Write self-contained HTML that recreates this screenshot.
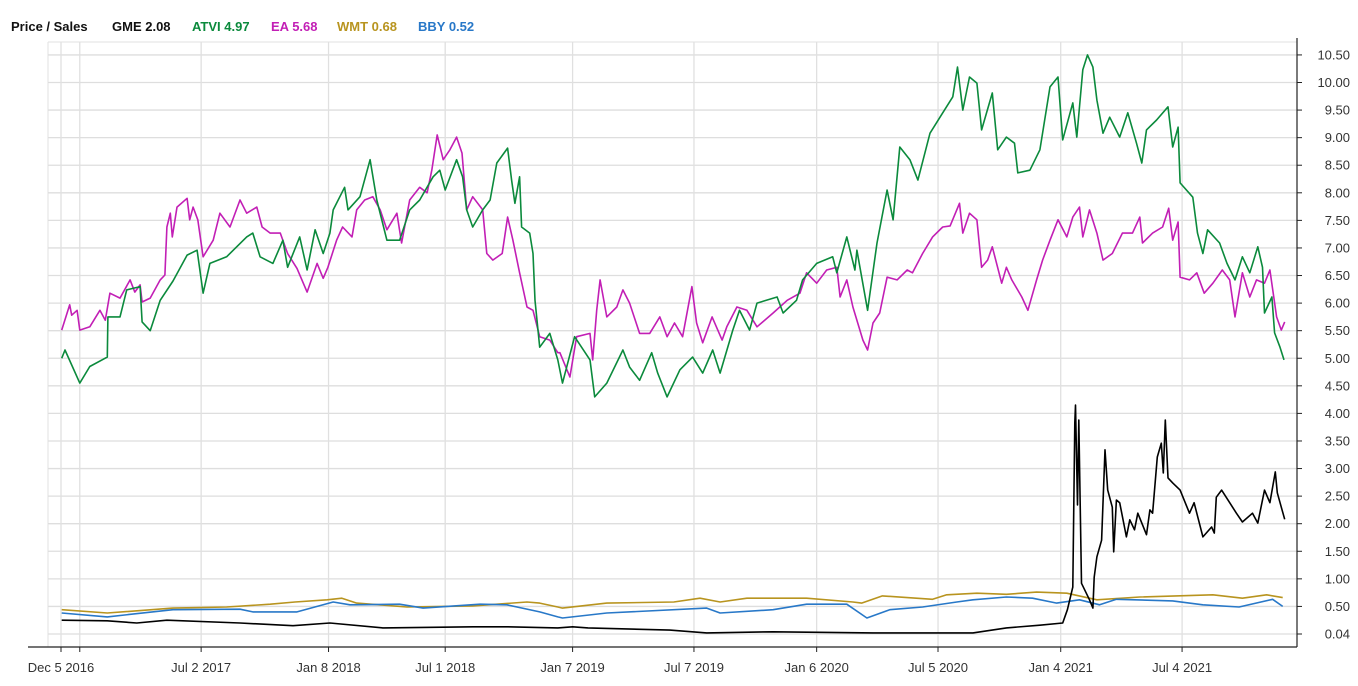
<!DOCTYPE html>
<html><head><meta charset="utf-8"><style>
body{margin:0;background:#fff;width:1358px;height:686px;overflow:hidden;font-family:"Liberation Sans",Arial,sans-serif}
#legend{position:absolute;left:0;top:19px;font-size:13px;font-weight:bold;white-space:nowrap}
#legend span{position:absolute;top:0}
svg{position:absolute;left:0;top:0}
</style></head><body>
<div id="legend">
<span style="left:11px;color:#111">Price / Sales</span>
<span style="left:112px;color:#111">GME 2.08</span>
<span style="left:192px;color:#0b8a3c">ATVI 4.97</span>
<span style="left:271px;color:#c21fb5">EA 5.68</span>
<span style="left:337px;color:#b8941f">WMT 0.68</span>
<span style="left:418px;color:#2878c8">BBY 0.52</span>
</div>
<svg id="chart" width="1358" height="686"></svg>
<script>
// days since Dec 5 2016
const xTickDays=[0,28,209,399,573,763,944,1127,1308,1491,1672];
const xTickLabels=["Dec 5 2016","","Jul 2 2017","Jan 8 2018","Jul 1 2018","Jan 7 2019","Jul 7 2019","Jan 6 2020","Jul 5 2020","Jan 4 2021","Jul 4 2021"];
const yTicks=[0,0.5,1,1.5,2,2.5,3,3.5,4,4.5,5,5.5,6,6.5,7,7.5,8,8.5,9,9.5,10,10.5];
const yTickLabels=["0.04","0.50","1.00","1.50","2.00","2.50","3.00","3.50","4.00","4.50","5.00","5.50","6.00","6.50","7.00","7.50","8.00","8.50","9.00","9.50","10.00","10.50"];

const atviDays=[1,6,28,43,69,70,88,98,118,121,133,148,167,188,203,212,222,247,277,286,297,316,331,338,356,367,379,391,401,406,423,428,446,461,471,486,505,520,535,555,565,573,590,599,605,614,629,640,650,666,672,677,684,687,699,704,707,714,729,741,748,766,789,796,814,838,848,863,881,890,904,923,942,957,972,983,1002,1012,1027,1038,1068,1077,1097,1106,1127,1151,1157,1172,1184,1187,1203,1217,1232,1241,1251,1266,1278,1296,1311,1330,1337,1345,1355,1366,1373,1389,1397,1410,1422,1427,1445,1460,1475,1487,1494,1509,1515,1524,1531,1539,1545,1554,1564,1579,1591,1604,1612,1619,1634,1651,1658,1666,1669,1688,1695,1703,1710,1728,1739,1751,1762,1773,1785,1792,1795,1806,1810,1818,1824];
const atviVals=[5.0,5.15,4.55,4.85,5.02,5.75,5.75,6.24,6.3,5.66,5.5,6.05,6.4,6.87,6.96,6.18,6.72,6.84,7.2,7.27,6.84,6.72,7.14,6.65,7.2,6.6,7.33,6.9,7.27,7.69,8.1,7.69,7.93,8.6,7.87,7.14,7.14,7.69,7.87,8.29,8.41,8.05,8.6,8.29,7.69,7.38,7.69,7.87,8.54,8.81,8.23,7.81,8.29,7.38,7.27,6.9,6.05,5.2,5.45,4.97,4.55,5.39,4.97,4.3,4.55,5.15,4.84,4.6,5.1,4.73,4.3,4.79,5.02,4.73,5.15,4.73,5.51,5.87,5.51,6.0,6.11,5.82,6.05,6.42,6.72,6.84,6.55,7.2,6.6,6.96,5.87,7.09,8.05,7.51,8.83,8.6,8.23,9.08,9.37,9.74,10.28,9.5,10.1,9.99,9.14,9.81,8.78,9.01,8.9,8.36,8.41,8.78,9.92,10.1,8.96,9.63,9.01,10.23,10.5,10.28,9.68,9.08,9.37,9.01,9.45,8.9,8.54,9.14,9.32,9.56,8.83,9.19,8.18,7.92,7.27,6.9,7.33,7.09,6.72,6.42,6.84,6.55,7.02,6.65,5.82,6.11,5.46,5.2,4.97];

const eaDays=[1,13,16,24,28,43,58,66,73,88,103,110,118,121,133,148,155,158,163,166,173,188,192,197,204,212,227,237,252,267,277,292,300,312,327,338,352,367,382,391,398,411,420,434,441,453,465,476,486,501,508,520,535,546,553,561,570,580,590,598,605,614,629,635,644,658,666,674,684,695,704,714,729,741,744,759,769,789,793,799,804,814,829,838,848,863,878,893,904,915,927,941,948,957,971,986,993,1008,1023,1038,1062,1083,1102,1112,1127,1142,1157,1162,1172,1181,1196,1203,1211,1221,1232,1247,1262,1270,1285,1300,1315,1326,1340,1345,1355,1366,1373,1382,1389,1403,1410,1418,1433,1442,1455,1464,1475,1487,1500,1509,1519,1524,1534,1545,1554,1568,1583,1598,1609,1613,1628,1643,1652,1658,1666,1669,1683,1694,1705,1718,1732,1743,1751,1762,1773,1783,1795,1803,1813,1820,1825];
const eaVals=[5.51,5.97,5.78,5.87,5.51,5.57,5.87,5.69,6.18,6.09,6.42,6.2,6.33,6.02,6.09,6.42,6.51,7.38,7.63,7.2,7.74,7.9,7.51,7.74,7.51,6.84,7.14,7.63,7.38,7.87,7.63,7.74,7.38,7.27,7.27,6.9,6.63,6.2,6.72,6.45,6.65,7.14,7.38,7.2,7.69,7.87,7.93,7.69,7.33,7.63,7.09,7.87,8.1,8.0,8.41,9.05,8.6,8.78,9.01,8.72,7.69,7.93,7.69,6.9,6.78,6.9,7.56,7.14,6.55,5.93,5.87,5.39,5.33,5.1,5.1,4.66,5.39,5.45,4.97,5.87,6.42,5.75,5.93,6.24,6.0,5.45,5.45,5.75,5.39,5.64,5.39,6.3,5.64,5.28,5.75,5.33,5.57,5.93,5.87,5.57,5.82,6.05,6.18,6.55,6.36,6.6,6.65,6.11,6.42,5.93,5.33,5.15,5.64,5.82,6.47,6.42,6.6,6.55,6.9,7.2,7.38,7.4,7.81,7.27,7.63,7.51,6.65,6.78,7.02,6.36,6.65,6.42,6.11,5.87,6.42,6.78,7.14,7.51,7.2,7.56,7.74,7.2,7.69,7.27,6.78,6.9,7.27,7.27,7.56,7.09,7.27,7.38,7.72,7.14,7.47,6.47,6.42,6.55,6.18,6.36,6.6,6.42,5.75,6.55,6.11,6.42,6.36,6.6,5.75,5.51,5.66];

const wmtDays=[1,69,167,247,312,349,397,419,441,516,614,695,714,741,748,814,914,953,983,1023,1112,1181,1194,1225,1300,1321,1366,1410,1455,1500,1545,1609,1718,1762,1798,1822];
const wmtVals=[0.44,0.38,0.47,0.49,0.54,0.58,0.62,0.65,0.56,0.49,0.51,0.58,0.56,0.49,0.47,0.56,0.58,0.65,0.58,0.65,0.65,0.58,0.56,0.69,0.63,0.71,0.74,0.72,0.76,0.74,0.62,0.67,0.71,0.65,0.71,0.66];

const bbyDays=[1,69,167,267,286,352,406,431,505,540,625,665,714,741,748,814,963,983,1062,1112,1172,1202,1236,1285,1336,1360,1410,1449,1485,1519,1549,1574,1658,1703,1757,1807,1822];
const bbyVals=[0.38,0.31,0.44,0.45,0.4,0.4,0.58,0.53,0.54,0.47,0.54,0.53,0.4,0.31,0.29,0.38,0.47,0.38,0.44,0.54,0.54,0.29,0.44,0.49,0.58,0.62,0.67,0.65,0.56,0.62,0.53,0.63,0.6,0.53,0.49,0.63,0.5];

const gmeDays=[1,69,113,158,267,346,401,480,614,665,741,763,786,908,963,1062,1211,1336,1360,1410,1460,1494,1501,1509,1512,1513,1516,1518,1522,1534,1539,1541,1545,1552,1557,1561,1568,1570,1574,1579,1589,1594,1601,1606,1612,1619,1624,1628,1635,1641,1644,1647,1651,1658,1669,1683,1690,1703,1716,1720,1723,1731,1743,1753,1762,1777,1785,1795,1803,1811,1814,1820,1825];
const gmeVals=[0.25,0.24,0.2,0.25,0.2,0.15,0.2,0.11,0.13,0.13,0.11,0.13,0.11,0.07,0.02,0.04,0.02,0.02,0.02,0.11,0.16,0.2,0.44,0.85,3.83,4.15,2.34,3.88,0.92,0.62,0.47,1.03,1.4,1.7,3.34,2.61,2.3,1.49,2.43,2.38,1.76,2.07,1.89,2.19,2.01,1.8,2.25,2.19,3.21,3.46,2.92,3.88,2.83,2.74,2.61,2.19,2.38,1.76,1.94,1.83,2.48,2.61,2.38,2.19,2.03,2.19,2.01,2.61,2.38,2.94,2.56,2.3,2.08];

const NS="http://www.w3.org/2000/svg";
const svg=document.getElementById('chart');
const X0=61, PXD=0.6705, Y0=634, PXV=55.15;
const PL=48, PR=1297, PT=42, PB=647;
function xScale(d){return X0+d*PXD;}
function yScale(v){return Y0-v*PXV;}
function mk(tag,attrs){const e=document.createElementNS(NS,tag);for(const k in attrs)e.setAttribute(k,attrs[k]);svg.appendChild(e);return e;}

let tb=mk('line',{x1:PL,x2:PR,y1:PT,y2:PT,stroke:'#e2e2e2','stroke-width':1});


let lb=mk('line',{x1:PL,x2:PL,y1:PT,y2:PB,stroke:'#e2e2e2','stroke-width':1});



yTicks.forEach((v,i)=>{
  const y=yScale(v);
  const g=mk('line',{x1:PL,x2:PR,y1:y,y2:y,stroke:'#dedede','stroke-width':1.3});
  
  
  const t=mk('line',{x1:PR,x2:PR+5,y1:y,y2:y,stroke:'#222','stroke-width':1});
  
  
  const tx=mk('text',{x:1350,y:y+4.5,'text-anchor':'end','font-size':13,fill:'#333','font-family':'Liberation Sans, Arial, sans-serif'});
  tx.textContent=yTickLabels[i];
  
  
});
xTickDays.forEach((d,i)=>{
  const x=xScale(d);
  const g=mk('line',{x1:x,x2:x,y1:PT,y2:PB,stroke:'#e0e0e0','stroke-width':1.3});
  
  
  const t=mk('line',{x1:x,x2:x,y1:PB,y2:PB+5,stroke:'#222','stroke-width':1});
  
  
  if(xTickLabels[i]){
    const tx=mk('text',{x:x,y:672,'text-anchor':'middle','font-size':13,fill:'#333','font-family':'Liberation Sans, Arial, sans-serif'});
    tx.textContent=xTickLabels[i];
    
    
  }
});
const xa=mk('line',{x1:PL-20,x2:PR,y1:PB,y2:PB,stroke:'#222','stroke-width':1.2});


const ya=mk('line',{x1:PR,x2:PR,y1:PT-4,y2:PB,stroke:'#222','stroke-width':1.2});



function series(days,vals,color,name){
  let d='';
  for(let i=0;i<days.length;i++){d+=(i?'L':'M')+xScale(days[i]).toFixed(1)+' '+yScale(vals[i]).toFixed(1);}
  const p=mk('path',{d:d,fill:'none',stroke:color,'stroke-width':1.6,'stroke-linejoin':'round'});
  
  
}
series(wmtDays,wmtVals,'#b8941f','wmt-line');
series(bbyDays,bbyVals,'#2878c8','bby-line');
series(gmeDays,gmeVals,'#000000','gme-line');
series(eaDays,eaVals,'#c21fb5','ea-line');
series(atviDays,atviVals,'#0b8a3c','atvi-line');
</script>
</body></html>
